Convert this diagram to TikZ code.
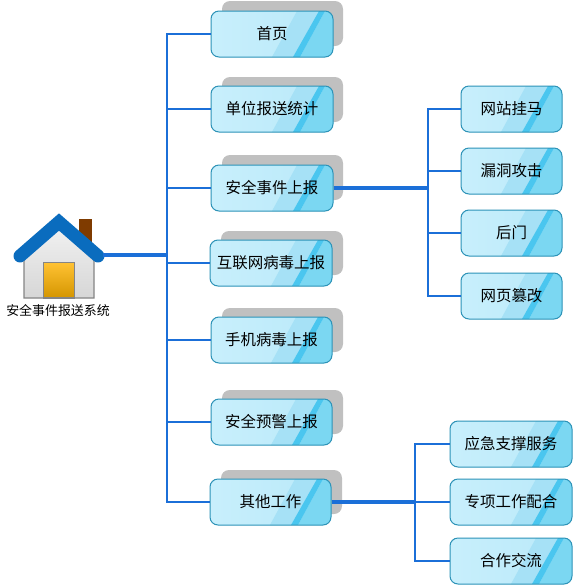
\documentclass[tikz,border=0pt]{standalone}
\usepackage{fontspec}
\setmainfont{Noto Sans CJK SC}
\definecolor{linkc}{HTML}{1B6FD8}
\definecolor{boxline}{HTML}{2C93B8}
\definecolor{glossa}{HTML}{C8EFFC}
\definecolor{glossb}{HTML}{B9E9F9}
\definecolor{glossc}{HTML}{A6E1F6}
\definecolor{glossd}{HTML}{7BD7F2}
\definecolor{glosse}{HTML}{4AC6EF}
\definecolor{shadowc}{HTML}{C0C0C0}
\definecolor{roofc}{HTML}{0A6CBE}
\definecolor{chimc}{HTML}{7F3B00}
\definecolor{doortop}{HTML}{FFC233}
\definecolor{doorbot}{HTML}{D49500}
\definecolor{walltop}{HTML}{F2F2F2}
\definecolor{wallbot}{HTML}{D6D6D6}
\definecolor{edgec}{HTML}{858585}
\tikzset{
  x=0.75pt,y=-0.75pt,
  glossframe/.style={draw=boxline,line width=0.75pt,rounded corners=6pt,inner sep=0pt,
    font=\fontsize{11.6pt}{13pt}\selectfont,minimum height=34.5pt},
  shadowbox/.style={fill=shadowc,rounded corners=6pt},
  trunk/.style={draw=linkc,line width=1.7pt},
  stem/.style={draw=linkc,line width=2.4pt},
  rootlabel/.style={font=\fontsize{9.7pt}{11pt}\selectfont,inner sep=0pt},
}
% name, centre x, centre y, width in px, text
\newcommand\glossnode[5]{%
  \begin{scope}
    \clip[rounded corners=6pt] ({#2-#4/2},{#3-23}) rectangle ({#2+#4/2},{#3+23});
    \fill[left color=glossa,right color=glossb] ({#2-#4/2},{#3-23}) rectangle ({#2+#4/2},{#3+23});
    \begin{scope}[shift={({#2+#4/2},{#3-23})}]
      \fill[glossc] (-36,0) -- (-14,0) -- (-40,46) -- (-61,46) -- cycle;
      \fill[glossd] (-8,0) -- (1,0) -- (1,46) -- (-33,46) -- cycle;
      \fill[glosse] (-14,0) -- (-8,0) -- (-33,46) -- (-40,46) -- cycle;
    \end{scope}
  \end{scope}
  \node[glossframe,minimum width={#4*0.75pt}] (#1) at (#2,#3) {#5};
}
\begin{document}
\begin{tikzpicture}
\useasboundingbox[fill=white] (0,0) rectangle (574,587);
% house
\fill[chimc] (79,219) rectangle (92,246);
\draw[draw=edgec,line width=0.9pt,top color=walltop,bottom color=wallbot]
  (24,298) -- (24,250) -- (59,224) -- (94,250) -- (94,298) -- cycle;
\draw[draw=edgec,line width=0.9pt,top color=doortop,bottom color=doorbot]
  (43.5,262.5) rectangle (74.5,298);
\draw[roofc,line width=9.75pt,line cap=round,line join=miter] (20,256) -- (59,222) -- (98,256);
\coordinate (root) at (103,255);
\node[rootlabel] (rootname) at (58,311) {安全事件报送系统};
% shadows
\fill[shadowbox] (222,1) rectangle (343,46);
\fill[shadowbox] (222,77) rectangle (343,122);
\fill[shadowbox] (222,155) rectangle (343,200);
\fill[shadowbox] (221,231) rectangle (343,275);
\fill[shadowbox] (222,308) rectangle (343,352);
\fill[shadowbox] (222,390) rectangle (343,434);
\fill[shadowbox] (221,470) rectangle (342,514);
% main nodes
\glossnode{a1}{272}{34}{122}{首页}
\glossnode{a2}{272}{109}{122}{单位报送统计}
\glossnode{a3}{272}{188}{122}{安全事件上报}
\glossnode{a4}{271}{263}{122}{互联网病毒上报}
\glossnode{a5}{271.5}{340}{121}{手机病毒上报}
\glossnode{a6}{271.5}{422}{121}{安全预警上报}
\glossnode{a7}{270.5}{502}{121}{其他工作}
% leaves
\glossnode{b1}{511.5}{109}{101}{网站挂马}
\glossnode{b2}{511.5}{171}{101}{漏洞攻击}
\glossnode{b3}{511.5}{233}{101}{后门}
\glossnode{b4}{511.5}{296}{101}{网页篡改}
\glossnode{c1}{511}{444}{122}{应急支撑服务}
\glossnode{c2}{511}{502}{122}{专项工作配合}
\glossnode{c3}{511}{561}{122}{合作交流}
% junctions
\coordinate (t0) at (167,255);
\coordinate (t1) at (428,188);
\coordinate (t2) at (415,502);
% connectors
\draw[stem] (root) -- (t0);
\draw[trunk] (a1.west) -| (t0);
\draw[trunk] (a7.west) -| (t0);
\draw[trunk] (a2.west) -- (a2.west -| t0);
\draw[trunk] (a3.west) -- (a3.west -| t0);
\draw[trunk] (a4.west) -- (a4.west -| t0);
\draw[trunk] (a5.west) -- (a5.west -| t0);
\draw[trunk] (a6.west) -- (a6.west -| t0);
\draw[stem] (a3.east) -- (t1);
\draw[trunk] (b1.west) -| (t1);
\draw[trunk] (b4.west) -| (t1);
\draw[trunk] (b2.west) -- (b2.west -| t1);
\draw[trunk] (b3.west) -- (b3.west -| t1);
\draw[stem] (a7.east) -- (t2);
\draw[trunk] (c1.west) -| (t2);
\draw[trunk] (c3.west) -| (t2);
\draw[trunk] (c2.west) -- (t2);
\end{tikzpicture}
\end{document}
